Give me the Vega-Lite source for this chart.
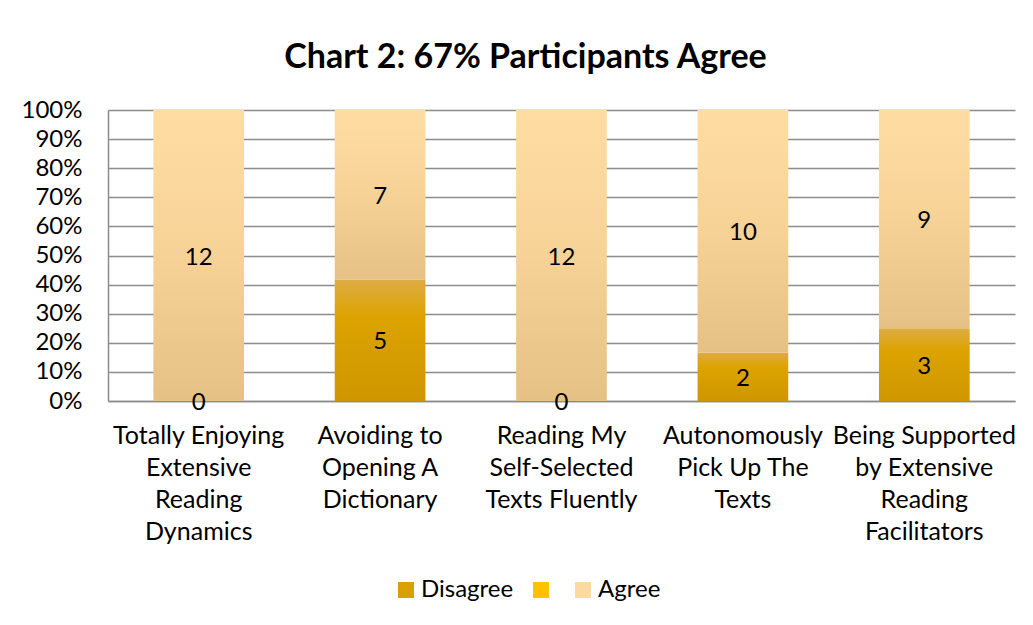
{
  "$schema": "https://vega.github.io/schema/vega-lite/v6.json",
  "width": 907,
  "height": 291,
  "autosize": {"type": "none"},
  "padding": {"left": 108, "top": 110, "right": 18, "bottom": 224},
  "background": "white",
  "title": {
    "text": "Chart 2: 67% Participants Agree",
    "font": "Lato",
    "fontSize": 34,
    "fontWeight": "bold",
    "color": "#000000",
    "anchor": "middle",
    "baseline": "alphabetic",
    "dx": -36,
    "dy": 36,
    "offset": 32
  },
  "config": {
    "view": {"stroke": null},
    "font": "Lato"
  },
  "data": {
    "values": [
      {"Item": "Totally Enjoying Extensive Reading Dynamics", "Response": "Disagree", "Count": 0},
      {"Item": "Totally Enjoying Extensive Reading Dynamics", "Response": "Agree", "Count": 12},
      {"Item": "Avoiding to Opening A Dictionary", "Response": "Disagree", "Count": 5},
      {"Item": "Avoiding to Opening A Dictionary", "Response": "Agree", "Count": 7},
      {"Item": "Reading My Self-Selected Texts Fluently", "Response": "Disagree", "Count": 0},
      {"Item": "Reading My Self-Selected Texts Fluently", "Response": "Agree", "Count": 12},
      {"Item": "Autonomously Pick Up The Texts", "Response": "Disagree", "Count": 2},
      {"Item": "Autonomously Pick Up The Texts", "Response": "Agree", "Count": 10},
      {"Item": "Being Supported by Extensive Reading Facilitators", "Response": "Disagree", "Count": 3},
      {"Item": "Being Supported by Extensive Reading Facilitators", "Response": "Agree", "Count": 9}
    ]
  },
  "encoding": {
    "x": {
      "field": "Item",
      "type": "nominal",
      "sort": null,
      "title": null,
      "scale": {"paddingInner": 0.5, "paddingOuter": 0.25},
      "axis": {
        "labelAngle": 0,
        "labelFontSize": 25,
        "labelFont": "Lato",
        "labelColor": "#000000",
        "labelLineHeight": 32,
        "labelBaseline": "top",
        "labelPadding": 22,
        "labelLimit": 0,
        "ticks": false,
        "domainColor": "#8c8c8c",
        "domainWidth": 1.5,
        "labelExpr": "datum.label == 'Totally Enjoying Extensive Reading Dynamics' ? ['Totally Enjoying','Extensive','Reading','Dynamics'] : datum.label == 'Avoiding to Opening A Dictionary' ? ['Avoiding to','Opening A','Dictionary'] : datum.label == 'Reading My Self-Selected Texts Fluently' ? ['Reading My','Self-Selected','Texts Fluently'] : datum.label == 'Autonomously Pick Up The Texts' ? ['Autonomously','Pick Up The','Texts'] : ['Being Supported','by Extensive','Reading','Facilitators']"
      }
    }
  },
  "layer": [
    {
      "mark": {"type": "bar"},
      "encoding": {
        "y": {
          "field": "Count",
          "type": "quantitative",
          "stack": "normalize",
          "title": null,
          "axis": {
            "format": ".0%",
            "values": [0, 0.1, 0.2, 0.3, 0.4, 0.5, 0.6, 0.7, 0.8, 0.9, 1],
            "labelOverlap": false,
            "labelFontSize": 24,
            "labelFont": "Lato",
            "labelColor": "#000000",
            "labelPadding": 26,
            "ticks": false,
            "domain": true,
            "domainColor": "#8c8c8c",
            "domainWidth": 1.5,
            "grid": true,
            "gridColor": "#8c8c8c",
            "gridWidth": 1.5
          }
        },
        "fill": {
          "condition": {
            "test": "datum.Response == 'Disagree'",
            "value": {"gradient": "linear", "x1": 0, "y1": 0, "x2": 0, "y2": 1, "stops": [{"offset": 0, "color": "#DEAC45"}, {"offset": 0.3, "color": "#DCA300"}, {"offset": 1, "color": "#D09600"}]}
          },
          "value": {"gradient": "linear", "x1": 0, "y1": 0, "x2": 0, "y2": 1, "stops": [{"offset": 0, "color": "#FFDDA2"}, {"offset": 0.5, "color": "#F6D297"}, {"offset": 1, "color": "#E6C185"}]}
        },
        "order": {"field": "Response", "sort": "descending"}
      }
    },
    {
      "mark": {"type": "square", "opacity": 0},
      "encoding": {
        "color": {
          "field": "Response",
          "type": "nominal",
          "scale": {
            "domain": ["Disagree", " ", "Agree"],
            "range": ["#D8A000", "#FFC200", "#FCD9A0"]
          },
          "legend": {
            "title": null,
            "orient": "none",
            "direction": "horizontal",
            "legendX": 286,
            "legendY": 468,
            "symbolType": "square",
            "symbolSize": 256,
            "symbolStrokeWidth": 0,
            "symbolOpacity": 1,
            "labelFontSize": 24,
            "labelFont": "Lato",
            "labelColor": "#000000",
            "labelOffset": 3,
            "columnPadding": 15,
            "labelExpr": "datum.label == ' ' ? '' : datum.label"
          }
        }
      }
    },
    {
      "mark": {"type": "text", "fontSize": 24, "font": "Lato", "color": "#000000", "baseline": "middle", "dy": 2},
      "encoding": {
        "y": {
          "field": "Count",
          "type": "quantitative",
          "stack": "normalize",
          "bandPosition": 0.5,
          "title": null,
          "axis": {
            "format": ".0%",
            "values": [0, 0.1, 0.2, 0.3, 0.4, 0.5, 0.6, 0.7, 0.8, 0.9, 1],
            "labelOverlap": false,
            "labelFontSize": 24,
            "labelFont": "Lato",
            "labelColor": "#000000",
            "labelPadding": 26,
            "ticks": false,
            "domain": true,
            "domainColor": "#8c8c8c",
            "domainWidth": 1.5,
            "grid": true,
            "gridColor": "#8c8c8c",
            "gridWidth": 1.5
          }
        },
        "text": {"field": "Count", "type": "quantitative"},
        "order": {"field": "Response", "sort": "descending"}
      }
    }
  ]
}
